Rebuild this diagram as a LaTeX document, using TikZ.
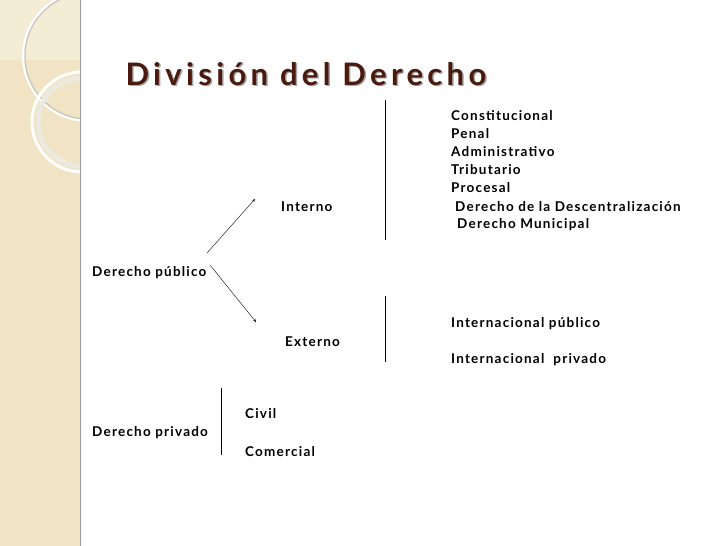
\documentclass[tikz,border=0pt]{standalone}
\usepackage{fontspec}
\setmainfont{Lato}[LetterSpace=9]
\newfontfamily\ttlfont{Lato}[LetterSpace=14]
\definecolor{strip}{HTML}{F0E4C4}
\definecolor{ttl}{HTML}{4A1A0E}
\begin{document}
\begin{tikzpicture}[x=1pt,y=-1pt,
  lbl/.style={anchor=west,inner sep=0pt,font=\fontsize{13.5}{15}\selectfont\bfseries},
  arr/.style={-stealth,thin}]
\useasboundingbox (0,0) rectangle (728,546);
\fill[white] (0,0) rectangle (728,546);
\fill[strip] (0,0) rectangle (80,546);
\begin{scope}
\clip (0,0) rectangle (80,546);
\fill[strip!70!white] (0,0) rectangle (80,60);
\draw[white,line width=2pt] (88,56) circle (65);
\draw[black!25,line width=1pt] (88,56) circle (63);
\draw[white,line width=3pt] (82,122) circle (50);
\draw[strip!80!black!30!white,line width=5pt] (82,122) circle (44);
\end{scope}
\draw[black!40] (80,0) -- (80,546);
\node[anchor=west,text=black!35,font=\ttlfont\fontsize{31}{34}\selectfont\bfseries] (ts) at (123.5,75.5) {División del Derecho};
\node[anchor=west,text=ttl,font=\ttlfont\fontsize{31}{34}\selectfont\bfseries] (t) at (122,74) {División del Derecho};
\node[lbl] (c1) at (451,116) {Constitucional};
\node[lbl] (c2) at (451,134) {Penal};
\node[lbl] (c3) at (451,152) {Administrativo};
\node[lbl] (c4) at (451,170) {Tributario};
\node[lbl] (c5) at (451,188) {Procesal};
\node[lbl] (c6) at (455,207) {Derecho de la Descentralización};
\node[lbl] (c7) at (457,225) {Derecho Municipal};
\node[lbl] (int) at (281,207) {Interno};
\node[lbl] (ext) at (285,342) {Externo};
\node[lbl] (pub) at (92,273) {Derecho público};
\node[lbl] (priv) at (92,433) {Derecho privado};
\node[lbl] (e1) at (451,324) {Internacional público};
\node[lbl] (e2) at (451,360) {Internacional\ \ privado};
\node[lbl] (civ) at (245,414) {Civil};
\node[lbl] (com) at (245,452) {Comercial};
\coordinate (a1) at (207,253); \coordinate (a2) at (255,199);
\coordinate (b1) at (210,265); \coordinate (b2) at (256,322);
\draw[arr] (a1) -- (a2);
\draw[arr] (b1) -- (b2);
\coordinate (v1) at (385,100); \coordinate (v2) at (385,240);
\coordinate (v3) at (385,296); \coordinate (v4) at (385,362);
\coordinate (v5) at (221,388); \coordinate (v6) at (221,455);
\draw (v1) -- (v2); \draw (v3) -- (v4); \draw (v5) -- (v6);
\end{tikzpicture}
\end{document}
